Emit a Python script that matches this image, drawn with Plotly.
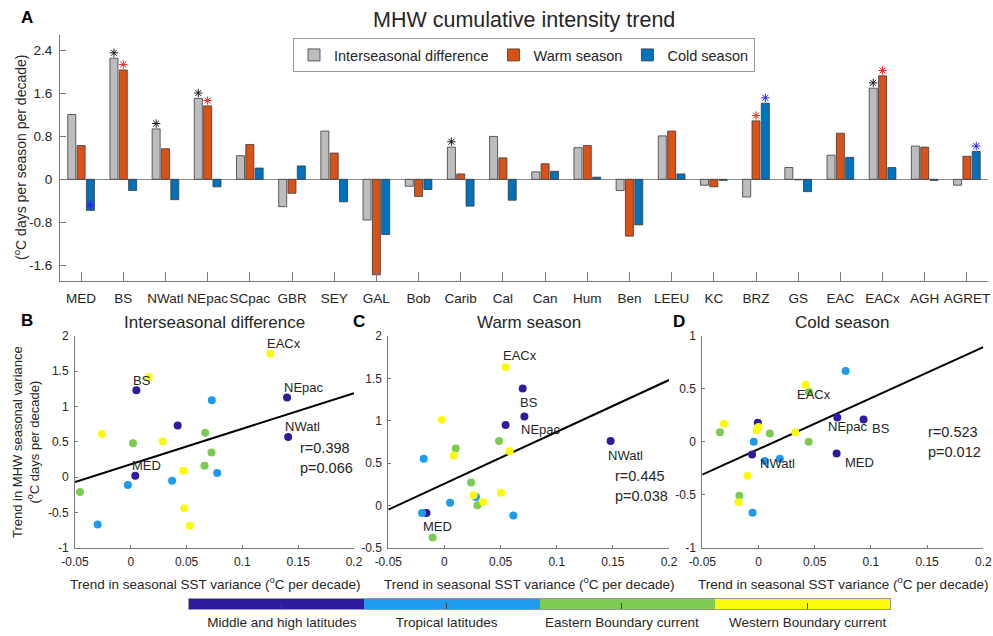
import plotly.graph_objects as go

# ---------------- data ----------------
regions = ['MED', 'BS', 'NWatl', 'NEpac', 'SCpac', 'GBR', 'SEY', 'GAL', 'Bob', 'Carib', 'Cal',
           'Can', 'Hum', 'Ben', 'LEEU', 'KC', 'BRZ', 'GS', 'EAC', 'EACx', 'AGH', 'AGRET']
region_group = [0, 0, 0, 0, 0, 1, 1, 1, 1, 1, 2, 2, 2, 2, 2, 3, 3, 3, 3, 3, 3, 3]
group_names = ['Middle and high latitudes', 'Tropical latitudes',
               'Eastern Boundary current', 'Western Boundary current']

inter_diff = [1.21, 2.26, 0.94, 1.51, 0.44, -0.51, 0.90, -0.76, -0.13, 0.60, 0.80,
              0.14, 0.59, -0.21, 0.81, -0.11, -0.33, 0.22, 0.45, 1.70, 0.62, -0.11]
warm = [0.63, 2.04, 0.57, 1.37, 0.65, -0.26, 0.49, -1.78, -0.32, 0.10, 0.40,
        0.29, 0.63, -1.06, 0.90, -0.14, 1.09, -0.01, 0.86, 1.93, 0.60, 0.43]
cold = [-0.58, -0.21, -0.38, -0.14, 0.21, 0.25, -0.42, -1.03, -0.19, -0.50, -0.39,
        0.15, 0.04, -0.85, 0.10, -0.02, 1.42, -0.23, 0.41, 0.22, -0.02, 0.52]
sig_inter = [0, 1, 1, 1, 0, 0, 0, 0, 0, 1, 0, 0, 0, 0, 0, 0, 0, 0, 0, 1, 0, 0]
sig_warm = [0, 1, 0, 1, 0, 0, 0, 0, 0, 0, 0, 0, 0, 0, 0, 0, 1, 0, 0, 1, 0, 0]
sig_cold = [1, 0, 0, 0, 0, 0, 0, 0, 0, 0, 0, 0, 0, 0, 0, 0, 1, 0, 0, 0, 0, 1]

bar_yticks = [-1.6, -0.8, 0, 0.8, 1.6, 2.4]
bar_yticklabels = ['-1.6', '-0.8', '0', '0.8', '1.6', '2.4']

# scatter panels (x: SST variance trend, y: MHW seasonal variance trend), in region order
B_x = [0.004, 0.005, 0.141, 0.140, 0.042, 0.0726, 0.0774, 0.037, -0.0026, -0.0297, 0.0666,
       0.002, 0.0723, 0.066, -0.0455, 0.016, -0.0258, 0.0285, 0.047, 0.125, 0.048, 0.053]
B_y = [0.02, 1.23, 0.57, 1.13, 0.73, 1.09, 0.06, -0.05, -0.11, -0.67, 0.63,
       0.48, 0.35, 0.16, -0.21, 1.42, 0.61, 0.51, 0.09, 1.75, -0.44, -0.69]
C_x = [-0.016, 0.0697, 0.148, 0.0712, 0.0545, -0.0185, 0.028, 0.005, 0.0614, -0.0199, 0.0486,
       0.0101, 0.0237, 0.0294, -0.0105, -0.0024, 0.0083, 0.058, 0.0504, 0.0545, 0.026, 0.0344]
C_y = [-0.09, 1.38, 0.76, 1.05, 0.95, 0.55, 0.10, 0.03, -0.12, -0.09, 0.76,
       0.67, 0.27, 0.0, -0.38, 1.01, 0.59, 0.64, 0.15, 1.63, 0.12, 0.04]
D_x = [0.0695, 0.0935, -0.0057, 0.0701, -0.0006, 0.0775, -0.0042, 0.0056, 0.019, -0.0053, 0.0449,
       -0.0343, 0.0101, 0.0446, -0.017, -0.0307, 0.0, -0.0017, 0.0327, 0.0419, -0.0098, -0.0178]
D_y = [-0.11, 0.21, -0.12, 0.23, 0.18, 0.67, 0.0, -0.18, -0.16, -0.67, 0.47,
       0.09, 0.08, 0.0, -0.51, 0.17, 0.14, 0.11, 0.09, 0.54, -0.32, -0.57]

fit_x = [-0.05, 0.2]
B_fit = [-0.07, 1.19]
C_fit = [-0.05, 1.48]
D_fit = [-0.31, 0.895]

B_stats = ['r=0.398', 'p=0.066']
C_stats = ['r=0.445', 'p=0.038']
D_stats = ['r=0.523', 'p=0.012']
B_stats_pos = [(0.150, 0.41), (0.150, 0.13)]
C_stats_pos = [(0.150, 0.35), (0.150, 0.115)]
D_stats_pos = [(0.149, 0.094), (0.149, -0.094)]

labelled = ['EACx', 'BS', 'NEpac', 'NWatl', 'MED']

sc_xticks = [-0.05, 0, 0.05, 0.1, 0.15, 0.2]
sc_xticklabels = ['-0.05', '0', '0.05', '0.1', '0.15', '0.2']
B_yticks = [-1, -0.5, 0, 0.5, 1, 1.5, 2]
B_yticklabels = ['-1', '-0.5', '0', '0.5', '1', '1.5', '2']
C_yticks = [-0.5, 0, 0.5, 1, 1.5, 2]
C_yticklabels = ['-0.5', '0', '0.5', '1', '1.5', '2']
D_yticks = [-1, -0.5, 0, 0.5, 1]
D_yticklabels = ['-1', '-0.5', '0', '0.5', '1']

cbar_tickvals = [0.53, 1.47, 2.47, 3.53]

# ---------------- styles ----------------
FONT = 'Liberation Sans, Arial, Helvetica, sans-serif'
TXT = '#262626'
AX = '#7a7a7a'
grp_colors = ['#2E1C9E', '#1E9AEE', '#7DCB52', '#FAFA0A']
bar_colors = ['#BDBDBD', '#D95319', '#0072BD']
star_colors = ['#1a1a1a', '#FF2020', '#2020FF']
bar_offsets = [-0.221, 0.0, 0.221]
bar_width = 0.19
star_dy = 0.1

label_shift = {
    'B': {'EACx': (-5, 10), 'BS': (-5, 10), 'NEpac': (-5, 10), 'NWatl': (-5, 10), 'MED': (-5, 10)},
    'C': {'EACx': (-5, 12), 'BS': (-5, -14), 'NEpac': (-5, -13), 'NWatl': (-5, -14), 'MED': (-5, -14)},
    'D': {'EACx': (-11, -10), 'BS': (6, -9), 'NEpac': (-11, -9), 'NWatl': (6, -9), 'MED': (6, -9)},
}

W, H = 993, 636


def px_x(a, b):
    return [a / W, b / W]


def px_y(top, bottom):
    return [(H - bottom) / H, (H - top) / H]


fig = go.Figure()

# ---------------- panel A: bars ----------------
series = [('Interseasonal difference', inter_diff, sig_inter),
          ('Warm season', warm, sig_warm),
          ('Cold season', cold, sig_cold)]
idx = list(range(1, len(regions) + 1))
for k, (name, vals, sig) in enumerate(series):
    fig.add_trace(go.Bar(
        x=[i + bar_offsets[k] for i in idx], y=vals, width=bar_width, name=name,
        marker=dict(color=bar_colors[k], line=dict(color='#3a3a3a', width=0.8)),
        xaxis='x', yaxis='y'))
for k, (name, vals, sig) in enumerate(series):
    sx = [i + bar_offsets[k] for i, s in zip(idx, sig) if s]
    sy = [v + star_dy for v, s in zip(vals, sig) if s]
    fig.add_trace(go.Scatter(
        x=sx, y=sy, mode='markers', showlegend=False,
        marker=dict(symbol='asterisk-open', size=7, color=star_colors[k],
                    line=dict(color=star_colors[k], width=1)),
        xaxis='x', yaxis='y'))

# ---------------- panels B, C, D ----------------
panels = [('B', B_x, B_y, B_fit, B_stats, B_stats_pos, '2'),
          ('C', C_x, C_y, C_fit, C_stats, C_stats_pos, '3'),
          ('D', D_x, D_y, D_fit, D_stats, D_stats_pos, '4')]
annotations = []
for key, xs, ys, fit, stats, spos, ax in panels:
    fig.add_trace(go.Scatter(
        x=fit_x, y=fit, mode='lines', showlegend=False,
        line=dict(color='black', width=2), xaxis='x' + ax, yaxis='y' + ax))
    fig.add_trace(go.Scatter(
        x=xs, y=ys, mode='markers', showlegend=False,
        marker=dict(size=8, color=[grp_colors[g] for g in region_group], line=dict(width=0)),
        xaxis='x' + ax, yaxis='y' + ax))
    for name in labelled:
        i = regions.index(name)
        dx, dy = label_shift[key][name]
        annotations.append(dict(
            x=xs[i], y=ys[i], xref='x' + ax, yref='y' + ax, text=name, showarrow=False,
            xanchor='left', yanchor='middle', xshift=dx, yshift=dy,
            font=dict(family=FONT, size=13, color=TXT)))
    for s, (sxp, syp) in zip(stats, spos):
        annotations.append(dict(
            x=sxp, y=syp, xref='x' + ax, yref='y' + ax, text=s, showarrow=False,
            xanchor='left', yanchor='middle', font=dict(family=FONT, size=14.5, color=TXT)))

# ---------------- group colour bar ----------------
fig.add_trace(go.Heatmap(
    z=[[0, 1, 2, 3]], x=[0.5, 1.5, 2.5, 3.5], y=[0],
    colorscale=[[0, grp_colors[0]], [0.25, grp_colors[0]], [0.25, grp_colors[1]], [0.5, grp_colors[1]],
                [0.5, grp_colors[2]], [0.75, grp_colors[2]], [0.75, grp_colors[3]], [1, grp_colors[3]]],
    zmin=-0.5, zmax=3.5, showscale=False, hoverinfo='skip', xaxis='x5', yaxis='y5'))

# ---------------- text annotations ----------------
def pa(x, y, text, size, bold=False, angle=0, xanchor='center'):
    return dict(x=x / W, y=(H - y) / H, xref='paper', yref='paper', text=text, showarrow=False,
                xanchor=xanchor, yanchor='middle', textangle=angle,
                font=dict(family=FONT, size=size, color='black' if bold else TXT,
                          weight='bold' if bold else 'normal'))


annotations += [
    pa(524, 20, 'MHW cumulative intensity trend', 21.5),
    pa(27, 18, 'A', 17, bold=True),
    pa(27, 320, 'B', 17, bold=True),
    pa(359, 321, 'C', 17, bold=True),
    pa(679, 321, 'D', 17, bold=True),
    pa(214.5, 323, 'Interseasonal difference', 17),
    pa(528.6, 323, 'Warm season', 17),
    pa(842.8, 323, 'Cold season', 17),
    pa(20, 158, '(<sup>o</sup>C days per season per decade)', 14, angle=-90),
    pa(26, 442, 'Trend in MHW seasonal variance<br>(<sup>o</sup>C days per decade)', 13, angle=-90),
    pa(214.5, 583, 'Trend in seasonal SST variance (<sup>o</sup>C per decade)', 13.5),
    pa(528.6, 583, 'Trend in seasonal SST variance (<sup>o</sup>C per decade)', 13.5),
    pa(842.8, 583, 'Trend in seasonal SST variance (<sup>o</sup>C per decade)', 13.5),
]

tickfont_top = dict(family=FONT, size=13.5, color=TXT)
tickfont_sc = dict(family=FONT, size=12, color=TXT)


def sc_axes(xdom, ydom, yr, yt, ytl, anchor_x, anchor_y):
    xa = dict(domain=xdom, anchor=anchor_y, range=[-0.05, 0.2], tickvals=sc_xticks, ticktext=sc_xticklabels,
              showline=True, linecolor=AX, linewidth=1, ticks='inside', ticklen=3, tickcolor=AX,
              showgrid=False, zeroline=False, tickfont=tickfont_sc, ticklabelstandoff=3, fixedrange=True,
              automargin=False, tickangle=0)
    ya = dict(domain=ydom, anchor=anchor_x, range=yr, tickvals=yt, ticktext=ytl,
              showline=True, linecolor=AX, linewidth=1, ticks='inside', ticklen=3, tickcolor=AX,
              showgrid=False, zeroline=False, tickfont=tickfont_sc, ticklabelstandoff=3, fixedrange=True,
              automargin=False)
    return xa, ya


xa2, ya2 = sc_axes(px_x(75, 354), px_y(336, 547.7), [-1, 2], B_yticks, B_yticklabels, 'x2', 'y2')
xa3, ya3 = sc_axes(px_x(388.3, 669), px_y(336, 547.7), [-0.5, 2], C_yticks, C_yticklabels, 'x3', 'y3')
xa4, ya4 = sc_axes(px_x(702.3, 983.3), px_y(336, 547.7), [-1, 1], D_yticks, D_yticklabels, 'x4', 'y4')

fig.update_layout(
    width=W, height=H, margin=dict(l=0, r=0, t=0, b=0, autoexpand=False),
    paper_bgcolor='white', plot_bgcolor='white',
    font=dict(family=FONT, color=TXT),
    barmode='overlay',
    showlegend=True,
    legend=dict(orientation='h', x=293 / W, y=(H - 38) / H, xanchor='left', yanchor='top',
                bordercolor='#9a9a9a', borderwidth=1, bgcolor='white',
                font=dict(family=FONT, size=14.5, color=TXT), itemwidth=30,
                tracegroupgap=0),
    xaxis=dict(domain=px_x(60, 988), anchor='y', range=[0.5, 22.5], tickvals=idx, ticktext=regions,
               showline=True, linecolor=AX, linewidth=1, ticks='inside', ticklen=9, tickcolor=AX,
               showgrid=False, zeroline=False, tickfont=tickfont_top, ticklabelstandoff=5, fixedrange=True,
               automargin=False, tickangle=0),
    yaxis=dict(domain=px_y(35, 281), anchor='x', range=[-1.897, 2.692], tickvals=bar_yticks,
               ticktext=bar_yticklabels, showline=True, linecolor=AX, linewidth=1, ticks='inside',
               ticklen=6, tickcolor=AX, showgrid=False, zeroline=True, zerolinecolor='#8a8a8a',
               zerolinewidth=1, tickfont=tickfont_top, ticklabelstandoff=4, fixedrange=True,
               automargin=False),
    xaxis2=xa2, yaxis2=ya2, xaxis3=xa3, yaxis3=ya3, xaxis4=xa4, yaxis4=ya4,
    xaxis5=dict(domain=px_x(189, 890), anchor='y5', range=[0, 4], tickvals=cbar_tickvals,
                ticktext=group_names, showline=True, mirror=True, linecolor='#9a9a9a', linewidth=1,
                ticks='inside', ticklen=6, tickcolor='#404040', showgrid=False, zeroline=False,
                tickfont=dict(family=FONT, size=13.5, color=TXT), ticklabelstandoff=1, fixedrange=True,
                automargin=False, tickangle=0),
    yaxis5=dict(domain=px_y(599, 609), anchor='x5', range=[-0.5, 0.5], showline=True, mirror=True,
                linecolor='#9a9a9a', linewidth=1, ticks='', showticklabels=False, showgrid=False,
                zeroline=False, fixedrange=True, automargin=False),
    annotations=annotations,
)

fig.write_html('out.html')
